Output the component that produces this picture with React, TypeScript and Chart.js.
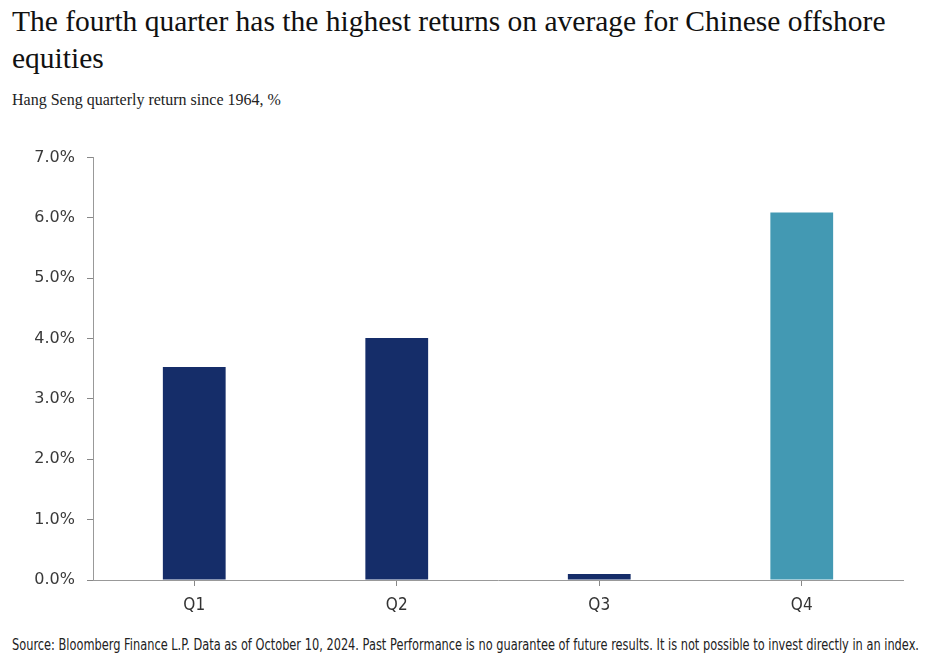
import React, { useEffect, useRef } from "react";
import { Chart, registerables } from "chart.js";

Chart.register(...registerables);

const categories = ["Q1", "Q2", "Q3", "Q4"];
const returns = [3.53, 4.01, 0.1, 6.09];
const barColors = ["#152d69", "#152d69", "#152d69", "#4399b3"];
const yTicks = [0, 1, 2, 3, 4, 5, 6, 7];

const TITLE_LINE1 = "The fourth quarter has the highest returns on average for Chinese offshore";
const TITLE_LINE2 = "equities";
const SUBTITLE = "Hang Seng quarterly return since 1964, %";
const FOOTER =
  "Source: Bloomberg Finance L.P. Data as of October 10, 2024. Past Performance is no guarantee of future results. It is not possible to invest directly in an index.";

const NARROW = "'DejaVu Sans Condensed', 'DejaVu Sans', sans-serif";

export default function App() {
  const canvasRef = useRef<HTMLCanvasElement | null>(null);
  const footRef = useRef<HTMLSpanElement | null>(null);

  useEffect(() => {
    document.body.style.margin = "0";
    const f = footRef.current;
    if (f) {
      const w = f.getBoundingClientRect().width;
      if (w > 0) f.style.transform = `scaleX(${907 / w})`;
    }
    const ctx = canvasRef.current;
    if (!ctx) return;
    const chart = new Chart(ctx, {
      type: "bar",
      data: {
        labels: categories,
        datasets: [
          {
            data: returns,
            backgroundColor: barColors,
            borderWidth: 0,
            barPercentage: 0.31,
            categoryPercentage: 1,
          },
        ],
      },
      options: {
        animation: false,
        responsive: false,
        maintainAspectRatio: false,
        layout: { padding: { left: 0, right: 28, top: 12, bottom: 0 } },
        plugins: { legend: { display: false }, tooltip: { enabled: false } },
        scales: {
          x: {
            grid: {
              offset: false,
              drawOnChartArea: false,
              drawTicks: true,
              tickLength: 6,
              color: "#888",
            },
            border: { display: true, color: "#999", width: 1 },
            ticks: {
              color: "#333",
              padding: 9,
              font: { family: NARROW, size: 17 },
            },
            afterFit: (s: any) => {
              s.height = 40;
            },
          },
          y: {
            min: 0,
            max: 7,
            afterBuildTicks: (s: any) => {
              s.ticks = yTicks.map((v) => ({ value: v }));
            },
            grid: {
              drawOnChartArea: false,
              drawTicks: true,
              tickLength: 6,
              color: "#888",
            },
            border: { display: true, color: "#999", width: 1 },
            ticks: {
              color: "#3a3a3a",
              padding: 12,
              font: { family: "'DejaVu Sans', Verdana, sans-serif", size: 16 },
              callback: (v: any) => Number(v).toFixed(1) + "%",
            },
            afterFit: (s: any) => {
              s.width = 93;
            },
          },
        },
      },
    });
    return () => chart.destroy();
  }, []);

  return (
    <div style={{ position: "relative", width: 931, height: 663, background: "#fff", overflow: "hidden" }}>
      <div
        style={{
          position: "absolute",
          left: 12,
          top: 3,
          whiteSpace: "nowrap",
          fontFamily: "'Liberation Serif', 'DejaVu Serif', serif",
          fontSize: 29.5,
          lineHeight: "37px",
          color: "#111",
        }}
      >
        {TITLE_LINE1}
        <br />
        {TITLE_LINE2}
      </div>
      <div
        style={{
          position: "absolute",
          left: 12,
          top: 91,
          fontFamily: "'Liberation Serif', 'DejaVu Serif', serif",
          fontSize: 16,
          color: "#222",
        }}
      >
        {SUBTITLE}
      </div>
      <canvas
        ref={canvasRef}
        width={931}
        height={484}
        style={{ position: "absolute", left: 0, top: 136, width: 931, height: 484 }}
      />
      <div style={{ position: "absolute", left: 12, top: 636, whiteSpace: "nowrap" }}>
        <span
          ref={footRef}
          style={{
            display: "inline-block",
            transformOrigin: "left center",
            fontFamily: "'DejaVu Sans', sans-serif",
            fontSize: 15,
            color: "#222",
          }}
        >
          {FOOTER}
        </span>
      </div>
    </div>
  );
}
